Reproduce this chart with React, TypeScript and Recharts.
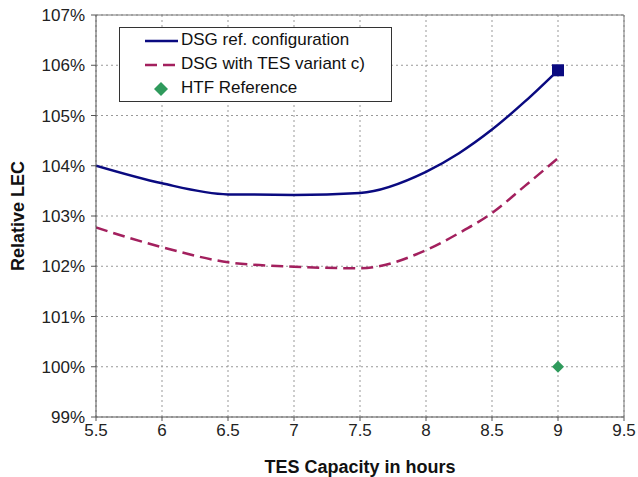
import React from "react"
import {
  CartesianGrid,
  ComposedChart,
  Line,
  ReferenceLine,
  Scatter,
  XAxis,
  YAxis,
} from "recharts"

// TES capacity (hours) and relative LEC (%)
const hours = [5.5, 6, 6.5, 7, 7.5, 8, 8.25, 8.5, 8.75, 9]
const dsgRef = [104.0, 103.65, 103.43, 103.42, 103.46, 103.88, 104.25, 104.72, 105.28, 105.9]
const dsgTesC = [102.77, 102.38, 102.08, 101.99, 101.96, 102.32, 102.66, 103.06, 103.6, 104.15]
const htfRef = [{ x: 9, y: 100 }]

const xTicks = [5.5, 6, 6.5, 7, 7.5, 8, 8.5, 9, 9.5]
const yTicks = [99, 100, 101, 102, 103, 104, 105, 106, 107]

const refData = hours.map((h, i) => ({ x: h, y: dsgRef[i] }))
const tesData = hours.map((h, i) => ({ x: h, y: dsgTesC[i] }))

const font = "'Liberation Sans', Arial, sans-serif"
const navy = "#0a0a80"
const maroon = "#a3205e"
const green = "#2f9a5c"

const EndSquare = (props: any) => {
  const { cx, cy, index } = props
  if (index !== refData.length - 1) return <g key={`d${index}`} />
  return <rect key={`d${index}`} x={cx - 6} y={cy - 6} width={12} height={12} fill={navy} />
}

const Diamond = (props: any) => {
  const { cx, cy } = props
  return <polygon points={`${cx},${cy - 6} ${cx + 6},${cy} ${cx},${cy + 6} ${cx - 6},${cy}`} fill={green} />
}

const LegendBox = () => (
  <div
    style={{
      position: "absolute",
      left: 119,
      top: 27,
      width: 271,
      height: 73,
      border: "1px solid #333",
      background: "#fff",
      fontFamily: font,
      fontSize: 17,
      color: "#111",
    }}
  >
    <svg width={60} height={73} style={{ position: "absolute", left: 0, top: 0 }}>
      <line x1={25} x2={58} y1={13} y2={13} stroke={navy} strokeWidth={2.5} />
      <line x1={25} x2={58} y1={37} y2={37} stroke={maroon} strokeWidth={2.5} strokeDasharray="12 6" />
      <polygon points="41,54 48,61 41,68 34,61" fill={green} />
    </svg>
    <div style={{ position: "absolute", left: 61, top: 2, whiteSpace: "nowrap" }}>DSG ref. configuration</div>
    <div style={{ position: "absolute", left: 61, top: 26, whiteSpace: "nowrap" }}>DSG with TES variant c)</div>
    <div style={{ position: "absolute", left: 61, top: 50, whiteSpace: "nowrap" }}>HTF Reference</div>
  </div>
)

export default function App() {
  return (
    <div style={{ position: "absolute", left: 0, top: 0, width: 638, height: 477, background: "#fff" }}>
      <ComposedChart width={638} height={477} margin={{ top: 15, right: 14, bottom: 0, left: 30 }}>
        <CartesianGrid stroke="#999" strokeDasharray="2 3" />
        <XAxis
          type="number"
          dataKey="x"
          domain={[5.5, 9.5]}
          ticks={xTicks}
          allowDataOverflow
          height={60}
          stroke="#555"
          tickSize={4}
          tick={{ fill: "#222", fontSize: 17, fontFamily: font }}
          tickMargin={3}
          label={{
            value: "TES Capacity in hours",
            position: "insideBottom",
            offset: 4,
            style: { fontFamily: font, fontSize: 18, fontWeight: "bold", fill: "#111" },
          }}
        />
        <YAxis
          type="number"
          dataKey="y"
          domain={[99, 107]}
          ticks={yTicks}
          width={66}
          stroke="#555"
          tickSize={5}
          tickMargin={6}
          tickFormatter={(v) => `${v}%`}
          tick={{ fill: "#222", fontSize: 17, fontFamily: font }}
          label={{
            value: "Relative LEC",
            angle: -90,
            position: "insideLeft",
            offset: -12,
            style: { fontFamily: font, fontSize: 18, fontWeight: "bold", fill: "#111", textAnchor: "middle" },
          }}
        />
        <ReferenceLine y={107} stroke="#777" />
        <ReferenceLine x={9.5} stroke="#777" />
        <Line
          data={refData}
          dataKey="y"
          type="monotone"
          stroke={navy}
          strokeWidth={2.5}
          dot={<EndSquare />}
          activeDot={false}
          isAnimationActive={false}
        />
        <Line
          data={tesData}
          dataKey="y"
          type="monotone"
          stroke={maroon}
          strokeWidth={2.5}
          strokeDasharray="12 6"
          dot={false}
          activeDot={false}
          isAnimationActive={false}
        />
        <Scatter data={htfRef} dataKey="y" fill={green} shape={<Diamond />} isAnimationActive={false} />
      </ComposedChart>
      <LegendBox />
    </div>
  )
}
